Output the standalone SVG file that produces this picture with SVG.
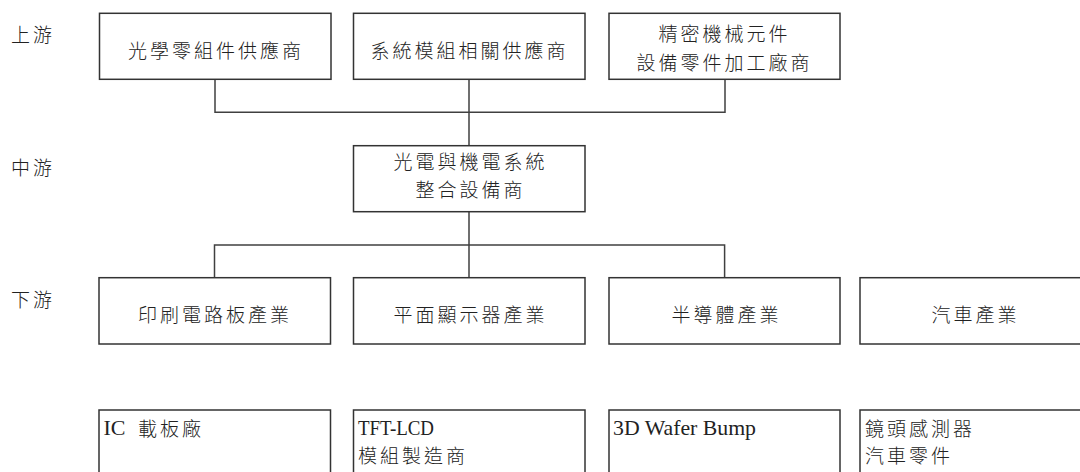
<svg xmlns="http://www.w3.org/2000/svg" width="1080" height="472" viewBox="0 0 1080 472">
<style>
  .bg{fill:#ffffff}
  .box{fill:#ffffff;stroke:#333333;stroke-width:1.5}
  .wire{fill:none;stroke:#404040;stroke-width:1.5}
  .cjk{font-family:"Noto Sans CJK TC","Noto Sans CJK SC",sans-serif;font-size:19px;font-weight:300;letter-spacing:3px;fill:#222222}
  .mid{text-anchor:middle}
  .lat{font-family:"Liberation Serif",serif;font-size:22px;fill:#222222}
</style>
<rect class="bg" x="0" y="0" width="1080" height="472"/>

<g id="labels">
  <text class="cjk" x="11" y="42">上游</text>
  <text class="cjk" x="11" y="174.5">中游</text>
  <text class="cjk" x="11" y="307">下游</text>
</g>

<g id="connectors">
  <path class="wire" d="M215,79.3 V112.3 H725 V79.3 M469,79.3 V145.7"/>
  <path class="wire" d="M469,211.7 V277.7 M214.5,277.7 V245 H724.6 V277.7"/>
</g>

<g id="up1">
  <rect class="box" x="99.5" y="13.3" width="231.5" height="66"/>
  <text class="cjk mid" x="216" y="58">光學零組件供應商</text>
</g>
<g id="up2">
  <rect class="box" x="353.5" y="13.3" width="231.5" height="66"/>
  <text class="cjk mid" x="469.5" y="58">系統模組相關供應商</text>
</g>
<g id="up3">
  <rect class="box" x="609" y="13.3" width="231" height="66"/>
  <text class="cjk mid" x="724.5" y="40.8">精密機械元件</text>
  <text class="cjk mid" x="724.5" y="70.2">設備零件加工廠商</text>
</g>

<g id="mid1">
  <rect class="box" x="353.5" y="145.7" width="231.5" height="66"/>
  <text class="cjk mid" x="470.5" y="169">光電與機電系統</text>
  <text class="cjk mid" x="470.5" y="197.3">整合設備商</text>
</g>

<g id="down1">
  <rect class="box" x="99" y="277.7" width="231.5" height="66.3"/>
  <text class="cjk mid" x="215" y="321.7">印刷電路板產業</text>
</g>
<g id="down2">
  <rect class="box" x="353.5" y="277.7" width="231.5" height="66.3"/>
  <text class="cjk mid" x="470.5" y="321.7">平面顯示器產業</text>
</g>
<g id="down3">
  <rect class="box" x="609" y="277.7" width="231" height="66.3"/>
  <text class="cjk mid" x="726.5" y="321.7">半導體產業</text>
</g>
<g id="down4">
  <rect class="box" x="860" y="277.7" width="240" height="66.3"/>
  <text class="cjk mid" x="975.5" y="321.7">汽車產業</text>
</g>

<g id="app1">
  <rect class="box" x="99" y="410" width="231.5" height="80"/>
  <text class="lat" x="103.5" y="434.5" textLength="22" lengthAdjust="spacingAndGlyphs">IC</text>
  <text class="cjk" x="138" y="435.5">載板廠</text>
</g>
<g id="app2">
  <rect class="box" x="353.5" y="410" width="231.5" height="80"/>
  <text class="lat" x="358" y="434.5" textLength="76" lengthAdjust="spacingAndGlyphs">TFT-LCD</text>
  <text class="cjk" x="358" y="463.2">模組製造商</text>
</g>
<g id="app3">
  <rect class="box" x="609" y="410" width="231" height="80"/>
  <text class="lat" x="613" y="434.5" textLength="143" lengthAdjust="spacingAndGlyphs">3D Wafer Bump</text>
</g>
<g id="app4">
  <rect class="box" x="860" y="410" width="240" height="80"/>
  <text class="cjk" x="865" y="435.5">鏡頭感測器</text>
  <text class="cjk" x="865" y="463.2">汽車零件</text>
</g>
</svg>
